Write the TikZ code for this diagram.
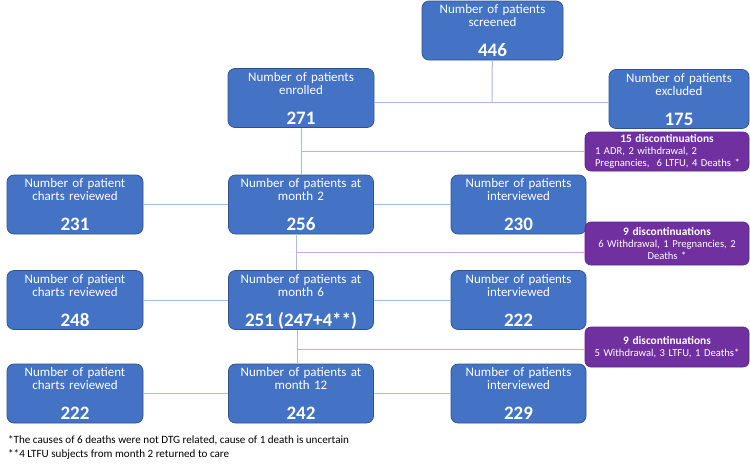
\documentclass[tikz,border=0pt]{standalone}
\usepackage{fontspec}
\setmainfont{Carlito}
\usepackage{tikz}
\definecolor{boxblue}{HTML}{4472C4}
\definecolor{boxedge}{HTML}{2F528F}
\definecolor{boxpurple}{HTML}{7030A0}
\definecolor{purpedge}{HTML}{5B2685}
\definecolor{linkblue}{HTML}{A7BCE6}
\definecolor{linkpurple}{HTML}{CDA8E4}
\newcommand{\numfont}{\bfseries\fontsize{19}{19}\selectfont}
\newcommand{\boxtxt}[2]{\parbox[c][52pt][t]{\linewidth}{\centering #1\par\vfill
    {\numfont\raisebox{0pt}[\height][0pt]{#2}}\par}}
\newcommand{\dtitle}[1]{{\bfseries\fontsize{11.4}{11.6}\selectfont #1}}
\tikzset{
  stage/.style={rectangle, rounded corners=7pt, fill=boxblue, draw=boxedge, line width=0.7pt,
    text=white, inner sep=0pt, text width=#1, minimum height=59pt, font=\fontsize{13}{13.2}\selectfont},
  disc/.style={rectangle, rounded corners=6pt, fill=boxpurple, draw=purpedge, line width=0.7pt,
    text=white, inner sep=0pt, text width=164pt, font=\fontsize{10.6}{11.6}\selectfont},
  link/.style={draw=linkblue, line width=1pt},
  plink/.style={draw=linkpurple, line width=1pt},
}

\begin{document}
\begin{tikzpicture}[x=1pt,y=-1pt]
    \useasboundingbox (0,0) rectangle (750,469);
    \coordinate (j0) at (492,102);
    \coordinate (k2) at (296,252);
    \coordinate (k3) at (297,349);

    \node[stage=141pt] (screened) at (492.5,30.5) {\boxtxt{Number of patients\\screened}{446}};
    \node[stage=146pt] (enrolled) at (301,98) {\boxtxt{Number of patients\\enrolled}{271}};
    \node[stage=140pt] (excluded) at (679,99) {\boxtxt{Number of patients\\excluded}{175}};

    \node[stage=136pt] (charts2) at (75,204.5) {\boxtxt{Number of patient\\charts reviewed}{231}};
    \node[stage=145pt] (month2) at (301,204.5) {\boxtxt{Number of patients at\\month 2}{256}};
    \node[stage=135pt] (interv2) at (518.5,204.5) {\boxtxt{Number of patients\\interviewed}{230}};

    \node[stage=136pt] (charts6) at (75,300) {\boxtxt{Number of patient\\charts reviewed}{248}};
    \node[stage=145pt] (month6) at (301,300) {\boxtxt{Number of patients at\\month 6}{251 (247+4**)}};
    \node[stage=135pt] (interv6) at (518.5,300) {\boxtxt{Number of patients\\interviewed}{222}};

    \node[stage=136pt] (charts12) at (75,393.5) {\boxtxt{Number of patient\\charts reviewed}{222}};
    \node[stage=145pt] (month12) at (301,393.5) {\boxtxt{Number of patients at\\month 12}{242}};
    \node[stage=135pt] (interv12) at (518.5,393.5) {\boxtxt{Number of patients\\interviewed}{229}};

    \node[disc, align=left, minimum height=39pt] (disc1) at (667,151.5)
        {\makebox[164pt]{\dtitle{15 discontinuations}}\\
         \hspace*{10pt}1 ADR, 2 withdrawal, 2\\
         \hspace*{10pt}Pregnancies,\ \ 6 LTFU, 4 Deaths *};
    \node[disc, align=center, minimum height=43pt] (disc2) at (667,243.5)
        {\dtitle{9 discontinuations}\\6 Withdrawal, 1 Pregnancies, 2\\Deaths *};
    \node[disc, align=center, minimum height=40pt] (disc3) at (667,347)
        {\dtitle{9 discontinuations}\\5 Withdrawal, 3 LTFU, 1 Deaths*};

    \draw[link] (screened) -- (j0);
    \draw[link] (enrolled.east |- j0) -- (excluded.west |- j0);
    \draw[link] (enrolled) -- (month2);
    \draw[plink] (enrolled.south |- disc1.west) -- (disc1.west);

    \draw[link] (charts2) -- (month2);
    \draw[link] (month2) -- (interv2);
    \draw[link] (month2.south -| k2) -- (month6.north -| k2);
    \draw[plink] (k2) -- (k2 -| disc2.west);

    \draw[link] (charts6) -- (month6);
    \draw[link] (month6) -- (interv6);
    \draw[link] (month6.south -| k3) -- (month12.north -| k3);
    \draw[plink] (k3) -- (k3 -| disc3.west);

    \draw[link] (charts12) -- (month12);
    \draw[link] (month12) -- (interv12);

    \node[anchor=north west, align=left, inner sep=0pt, font=\fontsize{11.1}{14}\selectfont] (notes) at (8,435)
        {*The causes of 6 deaths were not DTG related, cause of 1 death is uncertain\\
         **4 LTFU subjects from month 2 returned to care};
\end{tikzpicture}
\end{document}
